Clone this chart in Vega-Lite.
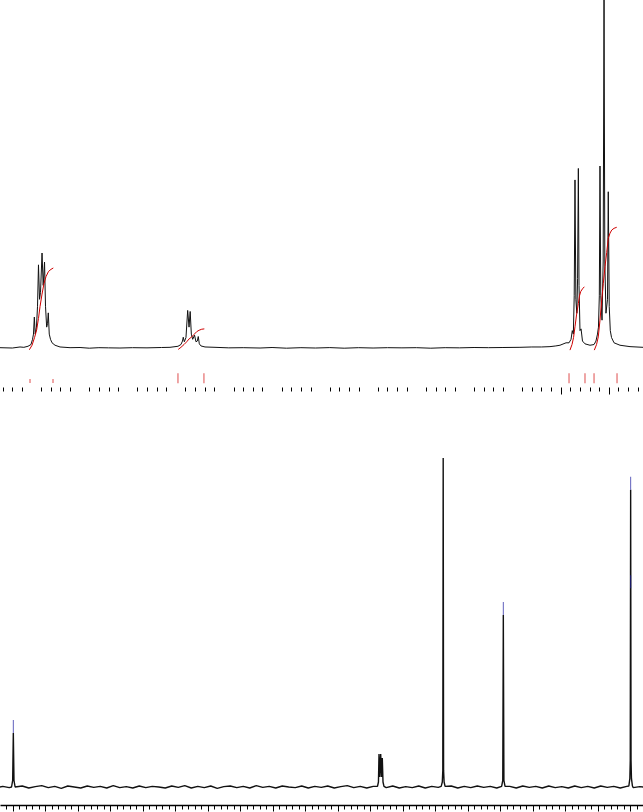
{
  "$schema": "https://vega.github.io/schema/vega-lite/v6.json",
  "padding": 0,
  "spacing": 60,
  "config": {"view": {"stroke": null}},
  "datasets": {
    "h1": [
      {"ppm": 7.828, "i": 0.1}, {"ppm": 7.70, "i": 0.0}, {"ppm": 7.62, "i": 0.3}, {"ppm": 7.58, "i": 0.2},
      {"ppm": 7.537, "i": 0.5}, {"ppm": 7.506, "i": 1.0}, {"ppm": 7.49, "i": 2.5}, {"ppm": 7.48, "i": 4},
      {"ppm": 7.471, "i": 8.9}, {"ppm": 7.462, "i": 4}, {"ppm": 7.449, "i": 6}, {"ppm": 7.438, "i": 12},
      {"ppm": 7.428, "i": 23.9}, {"ppm": 7.417, "i": 14}, {"ppm": 7.407, "i": 16}, {"ppm": 7.391, "i": 27.3},
      {"ppm": 7.379, "i": 18}, {"ppm": 7.365, "i": 24.7}, {"ppm": 7.355, "i": 12}, {"ppm": 7.343, "i": 6},
      {"ppm": 7.334, "i": 7}, {"ppm": 7.326, "i": 10.1}, {"ppm": 7.316, "i": 4}, {"ppm": 7.303, "i": 2.5},
      {"ppm": 7.287, "i": 1.5}, {"ppm": 7.256, "i": 0.8}, {"ppm": 7.204, "i": 0.3}, {"ppm": 7.10, "i": 0.1},
      {"ppm": 6.996, "i": 0.15}, {"ppm": 6.90, "i": -0.05}, {"ppm": 6.80, "i": 0.1}, {"ppm": 6.70, "i": 0.05},
      {"ppm": 6.581, "i": 0.0}, {"ppm": 6.45, "i": 0.1}, {"ppm": 6.30, "i": 0.05}, {"ppm": 6.15, "i": 0.15},
      {"ppm": 6.061, "i": 0.2}, {"ppm": 5.978, "i": 0.5}, {"ppm": 5.947, "i": 1.0}, {"ppm": 5.931, "i": 2},
      {"ppm": 5.923, "i": 3.1}, {"ppm": 5.912, "i": 1.8}, {"ppm": 5.895, "i": 3}, {"ppm": 5.877, "i": 10.8},
      {"ppm": 5.863, "i": 6}, {"ppm": 5.851, "i": 10.5}, {"ppm": 5.839, "i": 4}, {"ppm": 5.825, "i": 2.5},
      {"ppm": 5.806, "i": 3.7}, {"ppm": 5.791, "i": 1.8}, {"ppm": 5.777, "i": 2.0}, {"ppm": 5.767, "i": 3.3},
      {"ppm": 5.756, "i": 1.2}, {"ppm": 5.739, "i": 0.6}, {"ppm": 5.697, "i": 0.3}, {"ppm": 5.593, "i": 0.2},
      {"ppm": 5.45, "i": 0.05}, {"ppm": 5.30, "i": 0.1}, {"ppm": 5.125, "i": 0.0}, {"ppm": 5.00, "i": 0.15},
      {"ppm": 4.85, "i": -0.05}, {"ppm": 4.70, "i": 0.1}, {"ppm": 4.55, "i": 0.0}, {"ppm": 4.40, "i": 0.12},
      {"ppm": 4.25, "i": -0.05}, {"ppm": 4.10, "i": 0.1}, {"ppm": 3.95, "i": 0.0}, {"ppm": 3.80, "i": 0.1},
      {"ppm": 3.65, "i": 0.05}, {"ppm": 3.50, "i": 0.1}, {"ppm": 3.35, "i": -0.05}, {"ppm": 3.20, "i": 0.1},
      {"ppm": 3.05, "i": 0.05}, {"ppm": 2.90, "i": 0.15}, {"ppm": 2.75, "i": 0.1}, {"ppm": 2.60, "i": 0.15},
      {"ppm": 2.423, "i": 0.2}, {"ppm": 2.30, "i": 0.3}, {"ppm": 2.20, "i": 0.3}, {"ppm": 2.111, "i": 0.4},
      {"ppm": 2.05, "i": 0.6}, {"ppm": 2.007, "i": 0.8}, {"ppm": 1.944, "i": 1.5}, {"ppm": 1.913, "i": 1.5},
      {"ppm": 1.892, "i": 2.5}, {"ppm": 1.879, "i": 5}, {"ppm": 1.868, "i": 4}, {"ppm": 1.859, "i": 15},
      {"ppm": 1.851, "i": 48.3}, {"ppm": 1.842, "i": 14}, {"ppm": 1.832, "i": 10}, {"ppm": 1.824, "i": 20},
      {"ppm": 1.816, "i": 51.6}, {"ppm": 1.809, "i": 18}, {"ppm": 1.799, "i": 5}, {"ppm": 1.788, "i": 5.5},
      {"ppm": 1.773, "i": 2}, {"ppm": 1.747, "i": 1.2}, {"ppm": 1.695, "i": 0.8}, {"ppm": 1.653, "i": 1.0},
      {"ppm": 1.633, "i": 2}, {"ppm": 1.617, "i": 4}, {"ppm": 1.607, "i": 6}, {"ppm": 1.598, "i": 15},
      {"ppm": 1.591, "i": 52.3}, {"ppm": 1.583, "i": 15}, {"ppm": 1.570, "i": 8}, {"ppm": 1.558, "i": 25},
      {"ppm": 1.549, "i": 100}, {"ppm": 1.541, "i": 25}, {"ppm": 1.529, "i": 10}, {"ppm": 1.513, "i": 14},
      {"ppm": 1.505, "i": 44.9}, {"ppm": 1.495, "i": 12}, {"ppm": 1.484, "i": 5}, {"ppm": 1.471, "i": 3},
      {"ppm": 1.445, "i": 1.5}, {"ppm": 1.383, "i": 0.8}, {"ppm": 1.279, "i": 0.4}, {"ppm": 1.144, "i": 0.2}
    ],
    "h1int": [
      {"g": 1, "ppm": 7.523, "v": -0.5}, {"g": 1, "ppm": 7.495, "v": 0.8}, {"g": 1, "ppm": 7.469, "v": 3},
      {"g": 1, "ppm": 7.447, "v": 5.2}, {"g": 1, "ppm": 7.428, "v": 8.5}, {"g": 1, "ppm": 7.412, "v": 11.9},
      {"g": 1, "ppm": 7.391, "v": 15.5}, {"g": 1, "ppm": 7.371, "v": 18.5}, {"g": 1, "ppm": 7.350, "v": 20.5},
      {"g": 1, "ppm": 7.324, "v": 22}, {"g": 1, "ppm": 7.298, "v": 22.6}, {"g": 1, "ppm": 7.274, "v": 23},
      {"g": 2, "ppm": 5.975, "v": -0.4}, {"g": 2, "ppm": 5.947, "v": 0.2}, {"g": 2, "ppm": 5.915, "v": 1.0},
      {"g": 2, "ppm": 5.887, "v": 1.8}, {"g": 2, "ppm": 5.863, "v": 2.6}, {"g": 2, "ppm": 5.835, "v": 3.2},
      {"g": 2, "ppm": 5.811, "v": 3.9}, {"g": 2, "ppm": 5.783, "v": 4.7}, {"g": 2, "ppm": 5.759, "v": 5.1},
      {"g": 2, "ppm": 5.731, "v": 5.4}, {"g": 2, "ppm": 5.704, "v": 5.5},
      {"g": 3, "ppm": 1.903, "v": -0.6}, {"g": 3, "ppm": 1.882, "v": 1}, {"g": 3, "ppm": 1.866, "v": 3},
      {"g": 3, "ppm": 1.851, "v": 6.1}, {"g": 3, "ppm": 1.835, "v": 9.5}, {"g": 3, "ppm": 1.816, "v": 12.8},
      {"g": 3, "ppm": 1.804, "v": 15}, {"g": 3, "ppm": 1.792, "v": 16.2}, {"g": 3, "ppm": 1.773, "v": 17},
      {"g": 3, "ppm": 1.754, "v": 17.6},
      {"g": 4, "ppm": 1.650, "v": -0.6}, {"g": 4, "ppm": 1.627, "v": 1}, {"g": 4, "ppm": 1.609, "v": 3.2},
      {"g": 4, "ppm": 1.591, "v": 8}, {"g": 4, "ppm": 1.573, "v": 13.8}, {"g": 4, "ppm": 1.557, "v": 18.5},
      {"g": 4, "ppm": 1.539, "v": 23.4}, {"g": 4, "ppm": 1.521, "v": 27.5}, {"g": 4, "ppm": 1.505, "v": 31.5},
      {"g": 4, "ppm": 1.487, "v": 33}, {"g": 4, "ppm": 1.469, "v": 33.9}, {"g": 4, "ppm": 1.445, "v": 34.4},
      {"g": 4, "ppm": 1.417, "v": 34.7}
    ],
    "h1bnd": [
      {"ppm": 7.516, "kind": "small"}, {"ppm": 7.277, "kind": "small"},
      {"ppm": 5.978, "kind": "big"}, {"ppm": 5.708, "kind": "big"},
      {"ppm": 1.913, "kind": "big"}, {"ppm": 1.747, "kind": "big"},
      {"ppm": 1.653, "kind": "big"}, {"ppm": 1.414, "kind": "big"}
    ],
    "c13": [
      {"ppm": 193.85, "i": 0.0}, {"ppm": 193, "i": 0.2}, {"ppm": 191, "i": -0.2},
      {"ppm": 190.3, "i": 0.0}, {"ppm": 189.95, "i": 2}, {"ppm": 189.75, "i": 16.3}, {"ppm": 189.55, "i": 2}, {"ppm": 189.2, "i": 0.0},
      {"ppm": 187, "i": 0.3}, {"ppm": 185, "i": -0.3}, {"ppm": 183, "i": 0.1}, {"ppm": 181, "i": 0.4},
      {"ppm": 179, "i": -0.2}, {"ppm": 177, "i": 0.2}, {"ppm": 175, "i": -0.4}, {"ppm": 173, "i": 0.3},
      {"ppm": 171, "i": 0.0}, {"ppm": 169, "i": -0.3}, {"ppm": 167, "i": 0.3}, {"ppm": 165, "i": -0.1},
      {"ppm": 163, "i": 0.2}, {"ppm": 161, "i": -0.3}, {"ppm": 159, "i": 0.4}, {"ppm": 157, "i": -0.2},
      {"ppm": 155, "i": 0.1}, {"ppm": 153, "i": -0.3}, {"ppm": 151, "i": 0.3}, {"ppm": 149, "i": -0.2},
      {"ppm": 147, "i": 0.2}, {"ppm": 145, "i": 0.0}, {"ppm": 143, "i": -0.3}, {"ppm": 141, "i": 0.3},
      {"ppm": 139, "i": -0.1}, {"ppm": 137, "i": 0.4}, {"ppm": 135, "i": -0.3}, {"ppm": 133, "i": 0.2},
      {"ppm": 131, "i": -0.2}, {"ppm": 129, "i": 0.3}, {"ppm": 127, "i": -0.4}, {"ppm": 125, "i": 0.1},
      {"ppm": 123, "i": 0.3}, {"ppm": 121, "i": -0.2}, {"ppm": 119, "i": 0.2}, {"ppm": 117, "i": -0.3},
      {"ppm": 115, "i": 0.4}, {"ppm": 113, "i": -0.1}, {"ppm": 111, "i": 0.2}, {"ppm": 109, "i": -0.3},
      {"ppm": 107, "i": 0.3}, {"ppm": 105, "i": 0.0}, {"ppm": 103, "i": -0.2}, {"ppm": 101, "i": 0.3},
      {"ppm": 99, "i": -0.3}, {"ppm": 97, "i": 0.2}, {"ppm": 95, "i": -0.1}, {"ppm": 93, "i": 0.3},
      {"ppm": 91, "i": -0.3}, {"ppm": 89, "i": 0.1}, {"ppm": 87, "i": 0.4}, {"ppm": 85, "i": -0.2},
      {"ppm": 83, "i": 0.2}, {"ppm": 81, "i": -0.3}, {"ppm": 79, "i": 0.2},
      {"ppm": 77.7, "i": 0.2}, {"ppm": 77.4, "i": 1.5}, {"ppm": 77.23, "i": 9.9}, {"ppm": 77.0, "i": 3},
      {"ppm": 76.71, "i": 9.9}, {"ppm": 76.45, "i": 3}, {"ppm": 76.22, "i": 8.7}, {"ppm": 76.0, "i": 1.5}, {"ppm": 75.7, "i": 0.2},
      {"ppm": 75, "i": -0.2}, {"ppm": 73, "i": 0.3}, {"ppm": 71, "i": -0.3}, {"ppm": 69, "i": 0.1},
      {"ppm": 67, "i": -0.2}, {"ppm": 65, "i": 0.3}, {"ppm": 63, "i": -0.3}, {"ppm": 61, "i": 0.2},
      {"ppm": 59, "i": -0.1},
      {"ppm": 58.1, "i": 0.2}, {"ppm": 57.75, "i": 1.5}, {"ppm": 57.6, "i": 5}, {"ppm": 57.48, "i": 99.1},
      {"ppm": 57.36, "i": 5}, {"ppm": 57.2, "i": 1.5}, {"ppm": 56.9, "i": 0.2},
      {"ppm": 55, "i": 0.3}, {"ppm": 53, "i": -0.3}, {"ppm": 51, "i": 0.2}, {"ppm": 49, "i": -0.2},
      {"ppm": 47, "i": 0.3}, {"ppm": 45, "i": -0.1}, {"ppm": 43, "i": 0.2}, {"ppm": 41, "i": -0.3},
      {"ppm": 39.5, "i": 0.2}, {"ppm": 39.15, "i": 2}, {"ppm": 38.98, "i": 51.8}, {"ppm": 38.8, "i": 2}, {"ppm": 38.45, "i": 0.2},
      {"ppm": 37, "i": 0.2}, {"ppm": 35, "i": -0.3}, {"ppm": 33, "i": 0.3}, {"ppm": 31, "i": -0.1},
      {"ppm": 29, "i": 0.2}, {"ppm": 27, "i": -0.3}, {"ppm": 25, "i": 0.3}, {"ppm": 23, "i": -0.2},
      {"ppm": 21, "i": 0.1}, {"ppm": 19, "i": -0.3}, {"ppm": 17, "i": 0.3}, {"ppm": 15, "i": -0.2},
      {"ppm": 13, "i": 0.2}, {"ppm": 11, "i": -0.3}, {"ppm": 9, "i": 0.3}, {"ppm": 7, "i": -0.1},
      {"ppm": 5, "i": 0.2}, {"ppm": 3, "i": -0.3}, {"ppm": 1, "i": 0.2},
      {"ppm": 0.35, "i": 0.3}, {"ppm": 0.05, "i": 2.5}, {"ppm": -0.08, "i": 8}, {"ppm": -0.2, "i": 89.5},
      {"ppm": -0.32, "i": 8}, {"ppm": -0.45, "i": 2.5}, {"ppm": -0.75, "i": 0.3},
      {"ppm": -1, "i": -0.2}, {"ppm": -3, "i": 0.1}, {"ppm": -4.0, "i": 0.0}
    ],
    "c13lab": [
      {"ppm": 189.75, "top": 16.3}, {"ppm": 38.98, "top": 51.8},
      {"ppm": -0.2, "top": 89.5}, {"ppm": -0.2, "top": 59.9}
    ]
  },
  "vconcat": [
    {
      "width": 643,
      "height": 387,
      "layer": [
        {
          "data": {"name": "h1"},
          "mark": {"type": "line", "color": "#111111", "strokeWidth": 1, "strokeJoin": "bevel", "clip": true},
          "encoding": {
            "x": {
              "field": "ppm", "type": "quantitative",
              "scale": {"domain": [1.144, 7.828], "reverse": true, "nice": false, "zero": false},
              "axis": {
                "title": null, "domain": false, "labels": false, "grid": false,
                "tickColor": "#000000", "tickWidth": 1, "tickCount": 500,
                "values": [7.8, 7.7, 7.6, 7.4, 7.3, 7.2, 7.1, 6.9, 6.8, 6.7, 6.6, 6.4, 6.3, 6.2, 6.1, 5.9, 5.8, 5.7, 5.6, 5.4, 5.3, 5.2, 5.1, 4.9, 4.8, 4.7, 4.6, 4.4, 4.3, 4.2, 4.1, 3.9, 3.8, 3.7, 3.6, 3.4, 3.3, 3.2, 3.1, 2.9, 2.8, 2.7, 2.6, 2.4, 2.3, 2.2, 2.1, 2.0, 1.9, 1.8, 1.7, 1.6, 1.5, 1.4, 1.3, 1.2],
                "tickSize": {"condition": {"test": "abs(datum.value - 2.0) < 0.01 || abs(datum.value - 1.5) < 0.01", "value": 7}, "value": 4}
              }
            },
            "y": {
              "field": "i", "type": "quantitative",
              "scale": {"domain": [-11.2, 100], "nice": false, "zero": false},
              "axis": null
            }
          }
        },
        {
          "data": {"name": "h1int"},
          "mark": {"type": "line", "color": "#d00000", "strokeWidth": 1, "clip": true},
          "encoding": {
            "x": {"field": "ppm", "type": "quantitative"},
            "y": {"field": "v", "type": "quantitative", "axis": null},
            "detail": {"field": "g"}
          }
        },
        {
          "data": {"name": "h1bnd"},
          "transform": [{"filter": "datum.kind == 'big'"}],
          "mark": {"type": "tick", "orient": "vertical", "color": "#d00000", "size": 10, "thickness": 1},
          "encoding": {
            "x": {"field": "ppm", "type": "quantitative"},
            "y": {"datum": -8.65, "type": "quantitative", "axis": null}
          }
        },
        {
          "data": {"name": "h1bnd"},
          "transform": [{"filter": "datum.kind == 'small'"}],
          "mark": {"type": "tick", "orient": "vertical", "color": "#d00000", "size": 4, "thickness": 1},
          "encoding": {
            "x": {"field": "ppm", "type": "quantitative"},
            "y": {"datum": -9.5, "type": "quantitative", "axis": null}
          }
        }
      ]
    },
    {
      "width": 643,
      "height": 350,
      "layer": [
        {
          "data": {"name": "c13"},
          "mark": {"type": "line", "color": "#111111", "strokeWidth": 1.4, "strokeJoin": "bevel", "clip": true},
          "encoding": {
            "x": {
              "field": "ppm", "type": "quantitative",
              "scale": {"domain": [-4.0, 193.85], "reverse": true, "nice": false, "zero": false},
              "axis": {
                "title": null, "domain": true, "domainColor": "#000000", "domainWidth": 1.5,
                "labels": false, "grid": false,
                "tickColor": "#000000", "tickWidth": 1, "tickCount": 500,
                "values": [192, 190, 188, 186, 184, 182, 180, 178, 176, 174, 172, 170, 168, 166, 164, 162, 160, 158, 156, 154, 152, 150, 148, 146, 144, 142, 140, 138, 136, 134, 132, 130, 128, 126, 124, 122, 120, 118, 116, 114, 112, 110, 108, 106, 104, 102, 100, 98, 96, 94, 92, 90, 88, 86, 84, 82, 80, 78, 76, 74, 72, 70, 68, 66, 64, 62, 60, 58, 56, 54, 52, 50, 48, 46, 44, 42, 40, 38, 36, 34, 32, 30, 28, 26, 24, 22, 20, 18, 16, 14, 12, 10, 8, 6, 4, 2, 0, -2, -4],
                "tickSize": {"condition": {"test": "datum.value % 10 == 0", "value": 6}, "value": 4}
              }
            },
            "y": {
              "field": "i", "type": "quantitative",
              "scale": {"domain": [-5.42, 100], "nice": false, "zero": false},
              "axis": null
            }
          }
        },
        {
          "data": {"name": "c13lab"},
          "mark": {"type": "tick", "orient": "vertical", "color": "#1c1ca0", "size": 13, "thickness": 1, "yOffset": -6.5},
          "encoding": {
            "x": {"field": "ppm", "type": "quantitative"},
            "y": {"field": "top", "type": "quantitative", "axis": null}
          }
        }
      ]
    }
  ]
}
